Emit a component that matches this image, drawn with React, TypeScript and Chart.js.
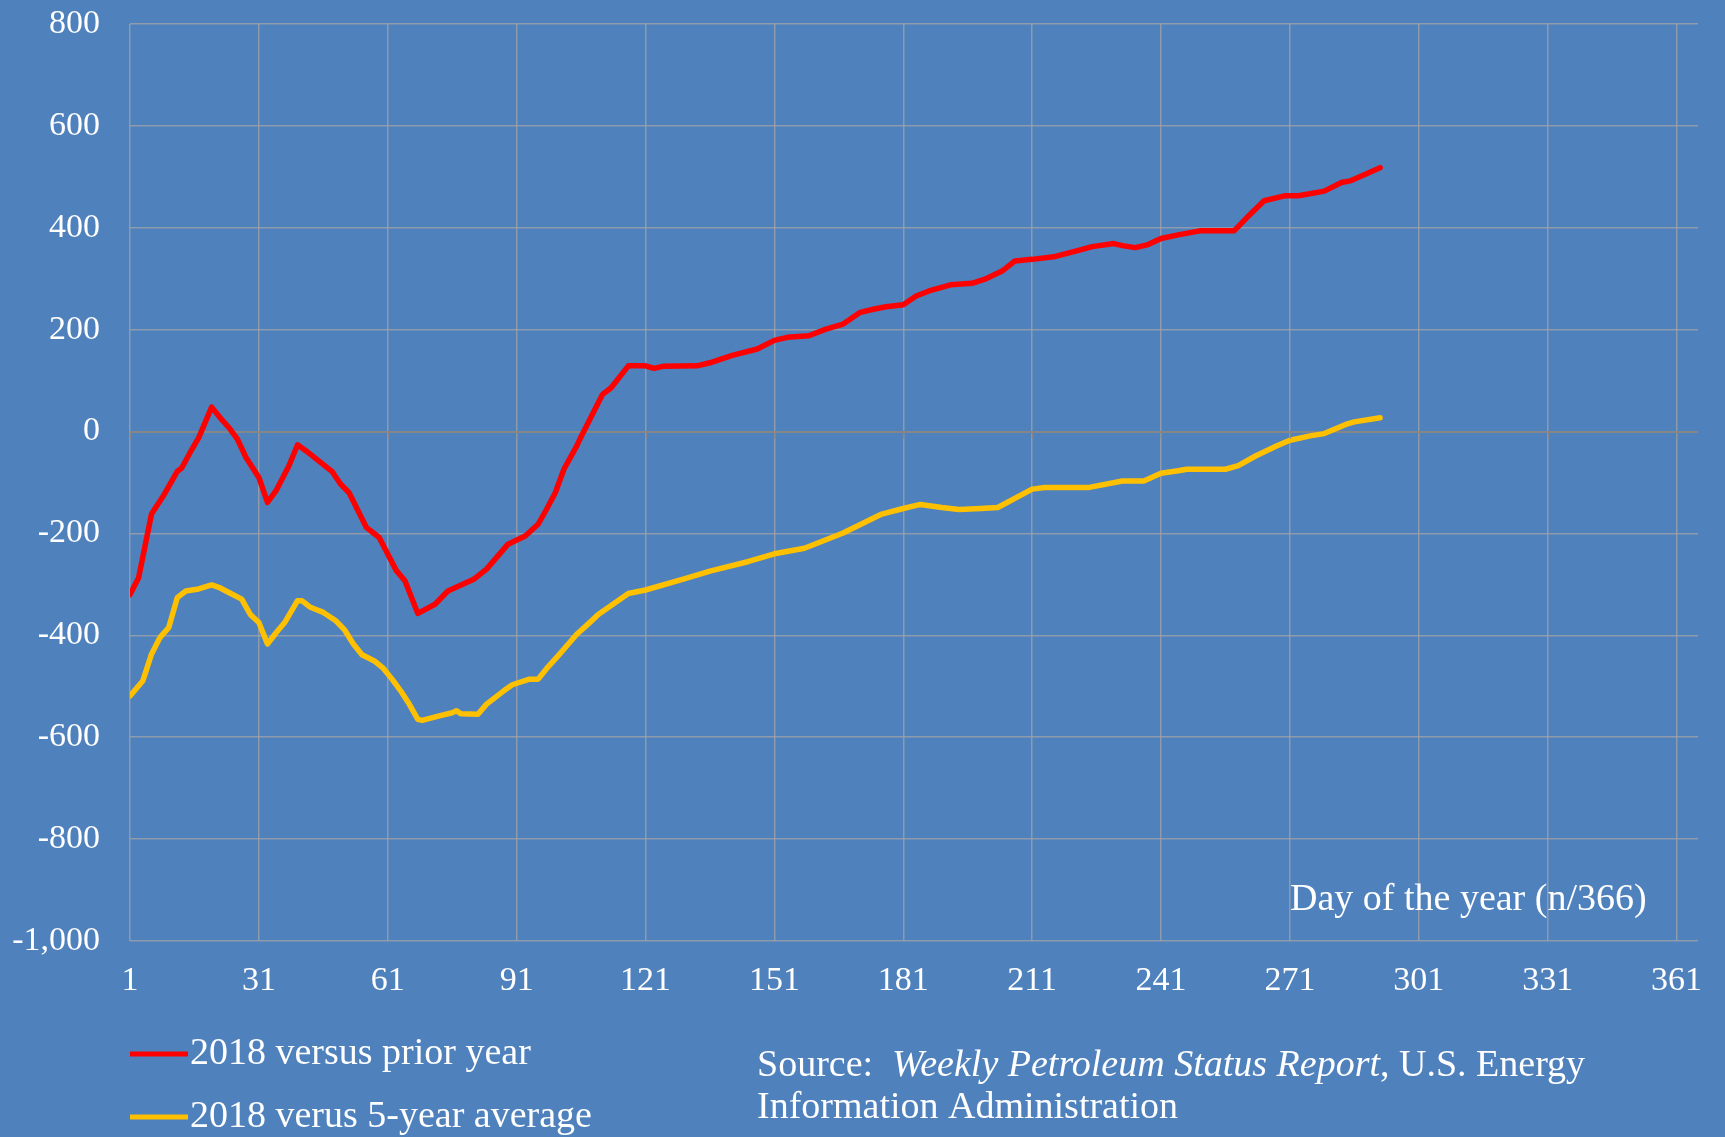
import React, { useEffect, useRef } from "react";
import { Chart, registerables } from "chart.js";

Chart.register(...registerables);

// ---------- data ----------
const seriesLabels = ["2018 versus prior year", "2018 verus 5-year average"];
const seriesColors = ["#FF0000", "#FFC000"];

const redDays = [
  1, 3, 6, 9, 12, 13, 15, 17, 20, 22,
  24, 26, 28, 31, 33, 35, 38, 40, 42, 45,
  48, 50, 52, 56, 59, 63, 65, 68, 72, 75,
  81, 84, 89, 93, 96, 98, 100, 102, 105, 106,
  111, 113, 117, 121, 123, 125, 133, 136, 141, 147,
  151, 154, 159, 163, 167, 171, 174, 177, 181, 184,
  187, 192, 197, 200, 204, 207, 211, 216, 222, 225,
  230, 232, 235, 238, 241, 245, 250, 258, 261, 265,
  270, 273, 279, 283, 285, 292,
];
const redValues = [
  -320, -287, -162, -123, -78, -72, -41, -12, 48, 27,
  8, -15, -51, -90, -139, -116, -67, -26, -38, -58,
  -78, -103, -120, -188, -208, -273, -293, -357, -339, -313,
  -290, -270, -221, -205, -182, -152, -120, -74, -28, -10,
  73, 86, 129, 129, 124, 128, 129, 135, 149, 162,
  179, 185, 188, 201, 211, 234, 240, 245, 249, 266,
  276, 288, 291, 299, 315, 335, 338, 343, 356, 363,
  369, 365, 361, 367, 379, 386, 394, 394, 420, 453,
  463, 463, 472, 489, 492, 518,
];

const yellowDays = [
  1, 4, 6, 8, 10, 12, 14, 17, 20, 22,
  24, 27, 29, 31, 33, 35, 37, 40, 41, 43,
  46, 49, 51, 53, 55, 58, 60, 62, 64, 66,
  68, 69, 73, 76, 77, 78, 82, 84, 88, 90,
  94, 96, 98, 101, 105, 108, 110, 117, 121, 130,
  136, 145, 151, 158, 167, 176, 181, 185, 190, 194,
  199, 203, 211, 214, 224, 232, 237, 241, 245, 247,
  256, 259, 263, 268, 271, 276, 279, 284, 286, 292,
];
const yellowValues = [
  -519, -489, -437, -404, -385, -326, -313, -309, -301, -307,
  -316, -329, -359, -375, -417, -395, -375, -332, -332, -345,
  -355, -372, -390, -417, -438, -451, -465, -486, -509, -535,
  -565, -567, -558, -552, -548, -554, -555, -535, -509, -497,
  -486, -486, -465, -437, -398, -375, -359, -318, -311, -289,
  -274, -255, -240, -229, -199, -162, -151, -143, -149, -153,
  -151, -149, -113, -110, -110, -97, -97, -82, -77, -74,
  -74, -67, -48, -28, -17, -8, -4, 14, 19, 27,
];

const xTickValues = [1, 31, 61, 91, 121, 151, 181, 211, 241, 271, 301, 331, 361];
const yTickValues = [-1000, -800, -600, -400, -200, 0, 200, 400, 600, 800];
const xMin = 1;
const xMax = 366;

const axisTitle = "Day of the year (n/366)";
const sourceLine1 = [
  { text: "Source:  ", italic: false },
  { text: "Weekly Petroleum Status Report", italic: true },
  { text: ", U.S. Energy", italic: false },
];
const sourceLine2 = "Information Administration";

// ---------- styling ----------
const BG = "#4F81BD";
const FONT = '"Liberation Serif", "Times New Roman", serif';
const GRID = "rgba(165,165,165,0.72)";
const ZERO = "#868686";
const TEXT_SIZE = 38;

const decorPlugin = {
  id: "decor",
  afterDraw(chart: any) {
    const ctx = chart.ctx as CanvasRenderingContext2D;
    const xs = chart.scales.x;
    const ys = chart.scales.y;
    ctx.save();
    // tick marks on the zero axis line
    const y0 = ys.getPixelForValue(0);
    ctx.strokeStyle = ZERO;
    ctx.lineWidth = 1.5;
    xTickValues.forEach((v) => {
      const px = Math.round(xs.getPixelForValue(v)) + 0.5;
      ctx.beginPath();
      ctx.moveTo(px, y0);
      ctx.lineTo(px, y0 + 7);
      ctx.stroke();
    });

    ctx.fillStyle = "#FFFFFF";
    ctx.textBaseline = "middle";
    ctx.textAlign = "left";

    // axis title inside plot
    ctx.font = `${TEXT_SIZE}px ${FONT}`;
    ctx.fillText(axisTitle, 1290, 900);

    // legend
    const legendRows = [1054, 1117];
    chart.data.datasets.forEach((ds: any, i: number) => {
      const yy = legendRows[i];
      ctx.strokeStyle = ds.borderColor;
      ctx.lineWidth = 5;
      ctx.lineCap = "butt";
      ctx.beginPath();
      ctx.moveTo(130, yy);
      ctx.lineTo(188, yy);
      ctx.stroke();
      ctx.font = `${TEXT_SIZE}px ${FONT}`;
      ctx.fillText(ds.label, 190, yy);
    });

    // source note
    let sx = 757;
    sourceLine1.forEach((seg) => {
      ctx.font = `${seg.italic ? "italic " : ""}${TEXT_SIZE}px ${FONT}`;
      ctx.fillText(seg.text, sx, 1066);
      sx += ctx.measureText(seg.text).width;
    });
    ctx.font = `${TEXT_SIZE}px ${FONT}`;
    ctx.fillText(sourceLine2, 757, 1108);
    ctx.restore();
  },
};

export default function App() {
  const canvasRef = useRef<HTMLCanvasElement | null>(null);

  useEffect(() => {
    const canvas = canvasRef.current;
    if (!canvas) return;
    const chart = new Chart(canvas, {
      type: "line",
      data: {
        datasets: [
          {
            label: seriesLabels[0],
            data: redDays.map((d, i) => ({ x: d, y: redValues[i] })),
            borderColor: seriesColors[0],
            backgroundColor: seriesColors[0],
            borderWidth: 5.5,
            pointRadius: 0,
            tension: 0,
            borderJoinStyle: "round",
            borderCapStyle: "round",
          },
          {
            label: seriesLabels[1],
            data: yellowDays.map((d, i) => ({ x: d, y: yellowValues[i] })),
            borderColor: seriesColors[1],
            backgroundColor: seriesColors[1],
            borderWidth: 5.5,
            pointRadius: 0,
            tension: 0,
            borderJoinStyle: "round",
            borderCapStyle: "round",
          },
        ],
      },
      options: {
        animation: false,
        responsive: false,
        maintainAspectRatio: false,
        layout: { padding: { left: 0, right: 27, top: 24, bottom: 76 } },
        plugins: {
          legend: { display: false },
          tooltip: { enabled: false },
          title: { display: false },
        },
        scales: {
          x: {
            type: "linear",
            min: xMin,
            max: xMax,
            afterBuildTicks: (scale: any) => {
              scale.ticks = xTickValues.map((v) => ({ value: v }));
            },
            afterFit: (scale: any) => {
              scale.height = 120;
            },
            grid: {
              color: GRID,
              lineWidth: 1.5,
              drawTicks: true,
              tickLength: 20,
              tickColor: "rgba(0,0,0,0)",
            },
            border: { display: false },
            ticks: {
              color: "#FFFFFF",
              font: { family: FONT, size: 34 },
              padding: 0,
              maxRotation: 0,
              autoSkip: false,
              callback: (v: any) => String(v),
            },
          },
          y: {
            type: "linear",
            min: -1000,
            max: 800,
            afterBuildTicks: (scale: any) => {
              scale.ticks = yTickValues.map((v) => ({ value: v }));
            },
            afterFit: (scale: any) => {
              scale.width = 130;
            },
            grid: {
              color: (c: any) => (c.tick && c.tick.value === 0 ? ZERO : GRID),
              lineWidth: (c: any) => (c.tick && c.tick.value === 0 ? 2 : 1.5),
              drawTicks: true,
              tickLength: 30,
              tickColor: "rgba(0,0,0,0)",
            },
            border: { display: false },
            ticks: {
              color: "#FFFFFF",
              font: { family: FONT, size: 34 },
              padding: 0,
              callback: (v: any) => Number(v).toLocaleString("en-US"),
            },
          },
        },
      },
      plugins: [decorPlugin],
    } as any);
    return () => chart.destroy();
  }, []);

  return (
    <div
      style={{
        position: "absolute",
        left: 0,
        top: 0,
        width: 1725,
        height: 1137,
        background: BG,
        overflow: "hidden",
      }}
    >
      <canvas
        ref={canvasRef}
        width={1725}
        height={1137}
        style={{ display: "block", width: 1725, height: 1137 }}
      />
    </div>
  );
}
